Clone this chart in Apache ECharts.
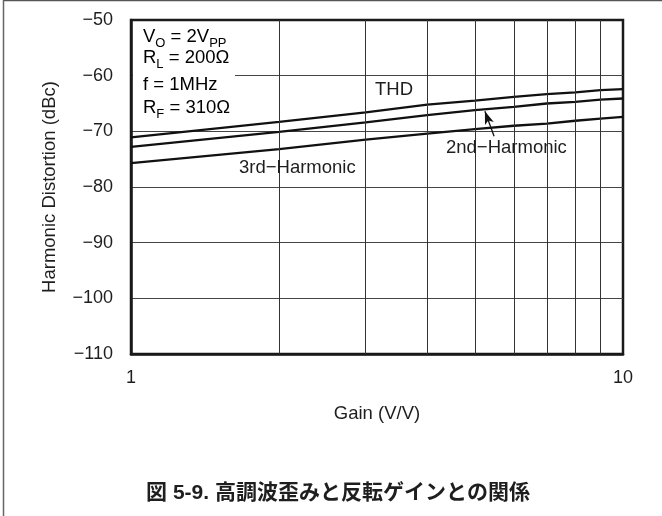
<!DOCTYPE html>
<html>
<head>
<meta charset="utf-8">
<script src="https://cdn.jsdelivr.net/npm/echarts@6/dist/echarts.min.js"></script>
<style>
html,body{margin:0;padding:0;background:#fff;}
#c{width:662px;height:516px;}
</style>
</head>
<body>
<div id="c"></div>
<script>
// ---- data ----
const gain = [1, 2, 3, 4, 5, 6, 7, 8, 9, 10];
const thd  = [-71.1, -68.3, -66.6, -65.2, -64.5, -63.8, -63.3, -63.0, -62.6, -62.4];
const h2   = [-72.8, -70.1, -68.4, -67.1, -66.2, -65.6, -65.0, -64.7, -64.3, -64.1];
const h3   = [-75.7, -73.2, -71.5, -70.4, -69.6, -69.0, -68.6, -68.1, -67.7, -67.4];
const xGridValues = [2, 3, 4, 5, 6, 7, 8, 9];
const yMin = -110, yMax = -50, yStep = 10;
const xMin = 1, xMax = 10;
const arrowFrom = [5.47, -70.9];
const arrowTo = [5.24, -66.4];

const FONT = '"Liberation Sans", Arial, Helvetica, sans-serif';
const TXT = '#1e1e1e';
const pairs = (xs, ys) => xs.map((x, i) => [x, ys[i]]);

const chart = echarts.init(document.getElementById('c'), null, {renderer: 'canvas'});

const lineSeries = (name, ys) => ({
  name, type: 'line', data: pairs(gain, ys), showSymbol: false, symbol: 'none',
  lineStyle: {color: '#111', width: 2.3}, z: 3, silent: true
});

const rich = {
  n: {fontSize: 18.5, fontFamily: FONT, color: TXT, lineHeight: 20, verticalAlign: 'middle'},
  s: {fontSize: 13, fontFamily: FONT, color: TXT, lineHeight: 20, padding: [10, 0, 0, 0], verticalAlign: 'top'}
};
const noteText = (txt, y) => ({
  type: 'text', z: 10, silent: true,
  style: {x: 143, y: y, text: txt, rich: rich, verticalAlign: 'middle', align: 'left'}
});
const plainText = (txt, x, y, size, bold, align) => ({
  type: 'text', z: 10, silent: true,
  style: {x, y, text: txt, fontSize: size, fontFamily: bold ? '"Liberation Sans", "Noto Sans CJK JP", sans-serif' : FONT,
          fontWeight: bold ? 'bold' : 'normal', fill: TXT, verticalAlign: 'middle', align: align || 'left'}
});

const option = {
  animation: false,
  backgroundColor: '#fff',
  grid: {left: 131, right: 39, top: 20, bottom: 162, show: true, borderColor: '#1a1a1a', borderWidth: 2.5, backgroundColor: 'transparent'},
  xAxis: {
    type: 'log', logBase: 10, min: xMin, max: xMax,
    name: 'Gain (V/V)', nameLocation: 'middle', nameGap: 50,
    nameTextStyle: {fontSize: 18.5, fontFamily: FONT, color: TXT},
    axisLine: {show: true, lineStyle: {color: '#1a1a1a', width: 2.5}},
    axisTick: {show: false},
    axisLabel: {fontSize: 18, fontFamily: FONT, color: TXT, margin: 15},
    splitLine: {show: false}
  },
  yAxis: {
    type: 'value', min: yMin, max: yMax, interval: yStep,
    name: 'Harmonic Distortion (dBc)', nameLocation: 'middle', nameGap: 72,
    nameTextStyle: {fontSize: 18.5, fontFamily: FONT, color: TXT},
    axisLine: {show: true, lineStyle: {color: '#1a1a1a', width: 2.5}},
    axisTick: {show: false},
    axisLabel: {fontSize: 18, fontFamily: FONT, color: TXT, margin: 18,
      formatter: v => String(v).replace('-', '\u2212')},
    splitLine: {show: true, showMinLine: false, showMaxLine: false, lineStyle: {color: '#444', width: 1}}
  },
  series: [
    Object.assign(lineSeries('THD', thd), {
      markLine: {
        silent: true, symbol: ['none', 'none'], label: {show: false},
        lineStyle: {color: '#333', width: 1, type: 'solid'},
        emphasis: {disabled: true},
        data: xGridValues.map(v => ({xAxis: v}))
      }
    }),
    Object.assign(lineSeries('2nd-Harmonic', h2), {
      markLine: {
        silent: true, symbol: ['none', 'arrow'], symbolSize: [7, 13], label: {show: false},
        lineStyle: {color: '#111', width: 1.3, type: 'solid'},
        emphasis: {disabled: true},
        data: [[{coord: arrowFrom}, {coord: arrowTo}]]
      }
    }),
    lineSeries('3rd-Harmonic', h3)
  ],
  graphic: [
    {type: 'line', silent: true, z: 20, shape: {x1: 3.5, y1: 0.5, x2: 662, y2: 0.5}, style: {stroke: '#555', lineWidth: 1.5}},
    {type: 'line', silent: true, z: 20, shape: {x1: 3.5, y1: 0, x2: 3.5, y2: 516}, style: {stroke: '#666', lineWidth: 1.5}},
    {type: 'rect', silent: true, z: 1, shape: {x: 133, y: 22, width: 102, height: 98}, style: {fill: '#fff'}},
    noteText('{n|V}{s|O}{n| = 2V}{s|PP}', 37),
    noteText('{n|R}{s|L}{n| = 200Ω}', 58),
    noteText('{n|f = 1MHz}', 84.5),
    noteText('{n|R}{s|F}{n| = 310Ω}', 107.5),
    plainText('THD', 375, 90, 18.5, false),
    plainText('3rd\u2212Harmonic', 239, 168, 18.5, false),
    plainText('2nd\u2212Harmonic', 446, 148, 18.5, false),
    plainText('図 5-9. 高調波歪みと反転ゲインとの関係', 338, 493, 21, true, 'center')
  ]
};
chart.setOption(option);
</script>
</body>
</html>
